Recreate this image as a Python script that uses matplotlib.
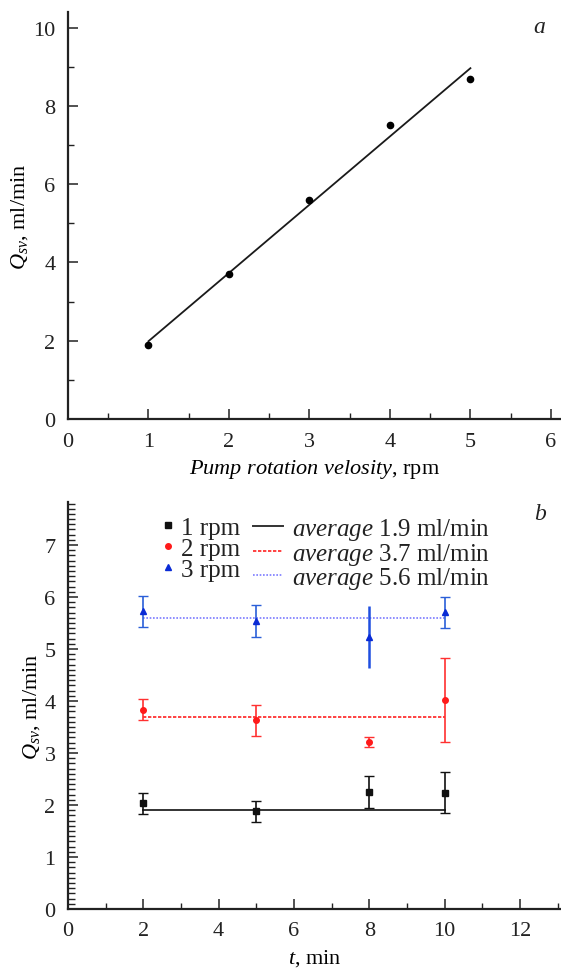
import numpy as np
import matplotlib
matplotlib.use("Agg")
import matplotlib.pyplot as plt
from matplotlib.ticker import MultipleLocator
from matplotlib.lines import Line2D

plt.rcParams['font.family'] = ['Liberation Serif', 'DejaVu Serif']
plt.rcParams['mathtext.fontset'] = 'custom'
plt.rcParams['mathtext.it'] = 'Liberation Serif:italic'
plt.rcParams['mathtext.rm'] = 'Liberation Serif'
plt.rcParams['text.color'] = '#222222'

# ---- Panel a data ----
rpm = [1, 2, 3, 4, 5]
q_rpm = [1.88, 3.70, 5.60, 7.50, 8.70]

# ---- Panel b data ----
t_min = [2, 5, 8, 10]
q1 = [2.03, 1.88, 2.25, 2.24]
e1 = [0.21, 0.20, 0.30, 0.39]
q2 = [3.83, 3.63, 3.21, 4.02]
e2 = [0.20, 0.30, 0.09, 0.80]
q3 = [5.73, 5.54, 5.23, 5.71]
e3 = [0.30, 0.30, 0.60, 0.30]
avg = [1.9, 3.7, 5.6]
series_labels = ['1 rpm', '2 rpm', '3 rpm']

fig = plt.figure(figsize=(5.61, 9.70), dpi=100)
FS = 16
LFS = 18

def style(ax):
    for s in ['top', 'right']:
        ax.spines[s].set_visible(False)
    for s in ['left', 'bottom']:
        ax.spines[s].set_linewidth(1.6)
        ax.spines[s].set_color('#222222')
    ax.tick_params(which='both', direction='in', colors='#222222', labelsize=FS)
    ax.tick_params(which='major', length=7, width=1.1, pad=9)
    ax.tick_params(which='minor', length=4, width=1.0)

# Panel a
axa = fig.add_axes([0.1212, 0.567, 0.878, 0.4196])
style(axa)
axa.plot(rpm, q_rpm, 'o', color='black', markersize=4.5, zorder=3)
coef = np.polyfit(rpm, q_rpm, 1)
xx = np.array([rpm[0], rpm[-1]])
axa.plot(xx, np.polyval(coef, xx), '-', color='#1a1a1a', lw=1.3)
axa.set_xlim(0, 6.12)
axa.set_ylim(0, 10.4)
axa.xaxis.set_major_locator(MultipleLocator(1))
axa.xaxis.set_minor_locator(MultipleLocator(0.5))
axa.yaxis.set_major_locator(MultipleLocator(2))
axa.yaxis.set_minor_locator(MultipleLocator(1))
axa.set_xlabel(r'$Pump\ rotation\ velosity$, rpm', fontsize=FS, labelpad=5)
axa.set_ylabel(r'$Q_{sv}$, ml/min', fontsize=FS, labelpad=2)
fig.text(0.962, 0.972, 'a', fontsize=FS + 1, style='italic', ha='center', va='center')

# Panel b
axb = fig.add_axes([0.1212, 0.0619, 0.878, 0.4196])
style(axb)
cols = ['#111111', '#ff1a1a', '#0a2bd6']
ecols = ['#111111', '#ff3030', '#2a5fd8']
mks = ['s', 'o', '^']
qs = [q1, q2, q3]
es = [e1, e2, e3]
for k, (q, e, c, ec, m) in enumerate(zip(qs, es, cols, ecols, mks)):
    if k == 2:
        idx_cap = [0, 1, 3]
        axb.errorbar([t_min[i] for i in idx_cap], [q[i] for i in idx_cap],
                     yerr=[e[i] for i in idx_cap], fmt='none', ecolor=ec,
                     elinewidth=1.2, capsize=3.5, capthick=1.0, zorder=2)
        axb.errorbar([t_min[2]], [q[2]], yerr=[e[2]], fmt='none', ecolor='#1f4fe0',
                     elinewidth=1.8, capsize=0, zorder=2)
    else:
        axb.errorbar(t_min, q, yerr=e, fmt='none', ecolor=ec, elinewidth=1.2,
                     capsize=3.5, capthick=1.0, zorder=2)
    axb.plot(t_min, q, m, color=c, markersize=4, linestyle='none', zorder=3)

avg_styles = [dict(color='#333333', ls='-', lw=1.4),
              dict(color='#ff2020', ls=(0, (2, 1)), lw=1.2),
              dict(color='#7a7aff', ls=(0, (1, 1)), lw=1.2)]
for a, st in zip(avg, avg_styles):
    axb.plot([t_min[0], t_min[-1]], [a, a], zorder=1, **st)

axb.set_xlim(0, 13.08)
axb.set_ylim(0, 7.83)
axb.xaxis.set_major_locator(MultipleLocator(2))
axb.xaxis.set_minor_locator(MultipleLocator(1))
axb.yaxis.set_major_locator(MultipleLocator(1))
axb.yaxis.set_minor_locator(MultipleLocator(0.1))
axb.tick_params(which='minor', axis='y', length=5)
axb.set_xlabel(r'$t$, min', fontsize=FS, labelpad=5)
axb.set_ylabel(r'$Q_{sv}$, ml/min', fontsize=FS, labelpad=2)
fig.text(0.962, 0.470, 'b', fontsize=FS + 1, style='italic', ha='center', va='center')

mk_handles = [Line2D([], [], marker=m, color=c, ls='none', markersize=4)
              for m, c in zip(mks, cols)]
ln_handles = [Line2D([], [], **st) for st in avg_styles]
ln_labels = [r'$average$ %.1f ml/min' % a for a in avg]

leg1 = axb.legend(mk_handles, series_labels, loc='upper left',
                  bbox_to_anchor=(0.291, 0.467), bbox_transform=fig.transFigure,
                  frameon=False, fontsize=LFS, handlelength=0.4, handletextpad=0.3,
                  labelspacing=-0.06, borderpad=0, borderaxespad=0)
axb.add_artist(leg1)
axb.legend(ln_handles, ln_labels, loc='upper left',
           bbox_to_anchor=(0.451, 0.467), bbox_transform=fig.transFigure,
           frameon=False, fontsize=LFS, handlelength=1.2, handletextpad=0.35,
           labelspacing=-0.06, borderpad=0, borderaxespad=0)

fig.savefig('out.png', dpi=100)
